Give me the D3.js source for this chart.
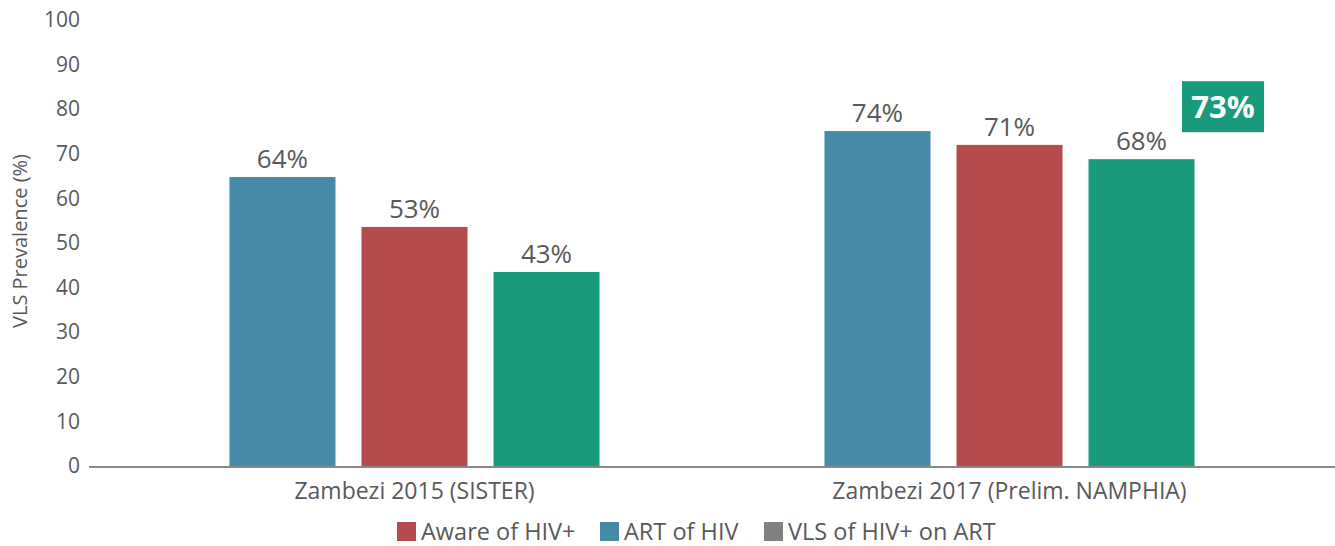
<!DOCTYPE html>
<html>
<head>
<meta charset="utf-8">
<script src="https://cdn.jsdelivr.net/npm/d3@7"></script>
<style>
  body { margin: 0; background: #fff; }
  svg { display: block; font-family: "Open Sans", "Noto Sans", sans-serif; }
</style>
</head>
<body>
<svg id="chart" width="1335" height="546"></svg>
<script>
const categories = ["Zambezi 2015 (SISTER)", "Zambezi 2017 (Prelim. NAMPHIA)"];
const seriesNames = ["ART of HIV", "Aware of HIV+", "VLS of HIV+ on ART"];
const artValues = [64.8, 75.1];
const awareValues = [53.6, 72.0];
const vlsValues = [43.5, 68.8];
const artLabels = ["64%", "74%"];
const awareLabels = ["53%", "71%"];
const vlsLabels = ["43%", "68%"];
const yTicks = [0, 10, 20, 30, 40, 50, 60, 70, 80, 90, 100];
const highlightValue = 80;
const highlightLabel = "73%";
const legendItems = ["Aware of HIV+", "ART of HIV", "VLS of HIV+ on ART"];

const colors = {
  "ART of HIV": "#458ba8",
  "Aware of HIV+": "#b64b4b",
  "VLS of HIV+ on ART": "#1a9a7d"
};
const legendColors = ["#b64b4b", "#458ba8", "#808080"];

const seriesValues = [artValues, awareValues, vlsValues];
const seriesLabels = [artLabels, awareLabels, vlsLabels];
const data = categories.map((c, i) => ({
  cat: c,
  bars: seriesNames.map((s, j) => ({ series: s, value: seriesValues[j][i], label: seriesLabels[j][i] }))
}));

const svg = d3.select("#chart");
const textColor = "#595959";

const y = d3.scaleLinear().domain([0, 100]).range([466, 20]);
const x0 = d3.scaleBand().domain(categories).range([117, 1307]).padding(0);
const x1 = d3.scaleBand().domain(seriesNames).range([0, x0.bandwidth()])
  .paddingInner(0.197).paddingOuter(0.852);

// y tick labels
const yAxis = d3.axisLeft(y).tickValues(yTicks).tickSize(0).tickPadding(0);
const gy = svg.append("g").attr("transform", "translate(80,0)").call(yAxis);
gy.select(".domain").remove();
gy.selectAll("text").attr("fill", textColor).style("font-size", "21px")
  .style("font-family", "'Open Sans', sans-serif");

// y title
svg.append("text")
  .attr("transform", "translate(27,241) rotate(-90)")
  .attr("text-anchor", "middle")
  .attr("fill", textColor)
  .style("font-size", "20px")
  .text("VLS Prevalence (%)");

// bars
const groups = svg.append("g").selectAll("g").data(data).join("g")
  .attr("transform", d => `translate(${x0(d.cat)},0)`);

groups.selectAll("rect").data(d => d.bars).join("rect")
  .attr("x", d => x1(d.series))
  .attr("y", d => y(d.value))
  .attr("width", x1.bandwidth())
  .attr("height", d => y(0) - y(d.value))
  .attr("fill", d => colors[d.series]);

groups.selectAll("text.val").data(d => d.bars).join("text")
  .attr("class", "val")
  .attr("x", d => x1(d.series) + x1.bandwidth() / 2)
  .attr("y", d => y(d.value) - 9)
  .attr("text-anchor", "middle")
  .attr("fill", textColor)
  .style("font-size", "26px")
  .text(d => d.label);

// x axis
const xAxis = d3.axisBottom(x0).tickSize(0).tickPadding(17);
const gx = svg.append("g").attr("transform", `translate(0,${y(0)})`).call(xAxis);
gx.select(".domain").remove();
gx.selectAll("text").attr("fill", textColor).style("font-size", "23px")
  .style("font-family", "'Open Sans', sans-serif");
svg.append("line")
  .attr("x1", 89).attr("x2", 1335)
  .attr("y1", y(0) + 1).attr("y2", y(0) + 1)
  .attr("stroke", "#898989").attr("stroke-width", 2);

// highlight box
const boxW = 82, boxH = 51;
const hg = svg.append("g");
hg.append("rect")
  .attr("x", 1182).attr("y", y(highlightValue) - 28)
  .attr("width", boxW).attr("height", boxH)
  .attr("fill", "#1a9a7d");
hg.append("text")
  .attr("x", 1182 + boxW / 2).attr("y", y(highlightValue) - 28 + boxH / 2 + 11)
  .attr("text-anchor", "middle")
  .attr("fill", "#fff")
  .style("font-size", "31px")
  .style("font-weight", "bold")
  .text(highlightLabel);

// legend
const legendX = [397, 600, 764];
const lg = svg.append("g");
legendItems.forEach((name, i) => {
  lg.append("rect").attr("x", legendX[i]).attr("y", 522).attr("width", 19).attr("height", 19)
    .attr("fill", legendColors[i]);
  lg.append("text").attr("x", legendX[i] + 24).attr("y", 540)
    .attr("fill", textColor).style("font-size", "23.5px").text(name);
});
</script>
</body>
</html>
